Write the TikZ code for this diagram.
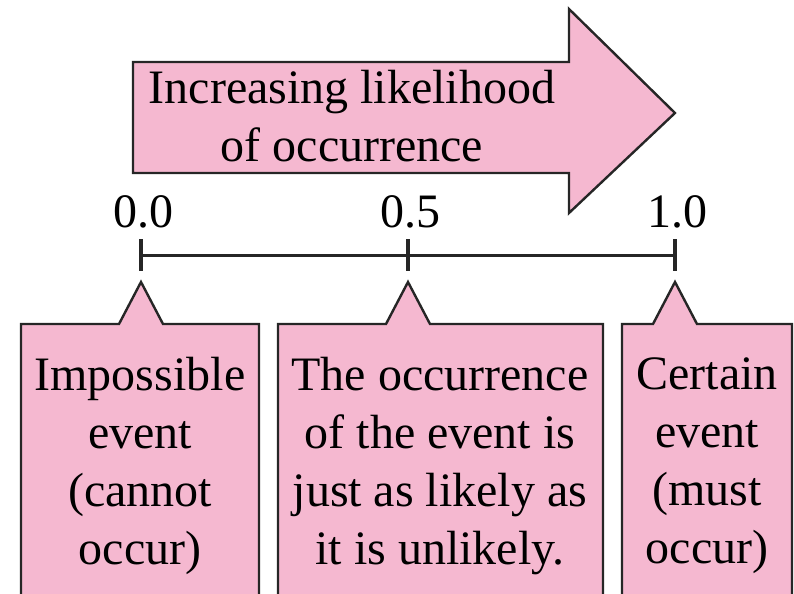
\documentclass[tikz,border=0pt]{standalone}
\usepackage{fontspec}
\setmainfont{Liberation Serif}
\usetikzlibrary{positioning}
\definecolor{callpink}{RGB}{245,184,208}

\begin{document}
\begin{tikzpicture}[x=0.5pt, y=-0.5pt,
  pinkshape/.style={fill=callpink, draw=black!85, line width=1.2pt},
  bigtext/.style={align=center, inner sep=0pt, font=\fontsize{24}{29}\selectfont},
  ticklabel/.style={anchor=base, inner sep=0pt, font=\fontsize{24}{29}\selectfont},
  tickline/.style={line width=2pt, black!85}
]
\useasboundingbox (0,0) rectangle (794,594);
\clip (0,0) rectangle (794,594);

% big arrow
\draw[pinkshape] (133,62) -- (569,62) -- (569,9) -- (675,113) -- (569,213) -- (569,173) -- (133,173) -- cycle;
\node[bigtext] (likely) at (352,116) {Increasing likelihood\\of occurrence};

% number line
\coordinate (t0) at (141,255);
\coordinate (t5) at (408,255);
\coordinate (t1) at (675,255);
\draw[line width=1.5pt, black!85] (t0) -- (t1);
\foreach \t in {t0,t5,t1}
  \draw[tickline] (\t) ++(0,-16) -- ++(0,32);
\node[ticklabel] (n0) at (143,227) {0.0};
\node[ticklabel] (n5) at (410,227) {0.5};
\node[ticklabel] (n1) at (677,227) {1.0};

% callouts
\draw[pinkshape] (21,324) -- (119,324) -- (141,282) -- (163,324) -- (259,324) -- (259,640) -- (21,640) -- cycle;
\draw[pinkshape] (278,324) -- (386,324) -- (408,282) -- (430,324) -- (603,324) -- (603,640) -- (278,640) -- cycle;
\draw[pinkshape] (622,324) -- (653,324) -- (675,282) -- (697,324) -- (792,324) -- (792,640) -- (622,640) -- cycle;

\node[bigtext] (never) at (140,466) {Impossible\\event\\(cannot\\occur)};
\node[bigtext] (half) at (440,466) {The occurrence\\of the event is\\just as likely as\\it is unlikely.};
\node[bigtext] (sure) at (707,466) {Certain\\event\\(must\\occur)};
\end{tikzpicture}
\end{document}
